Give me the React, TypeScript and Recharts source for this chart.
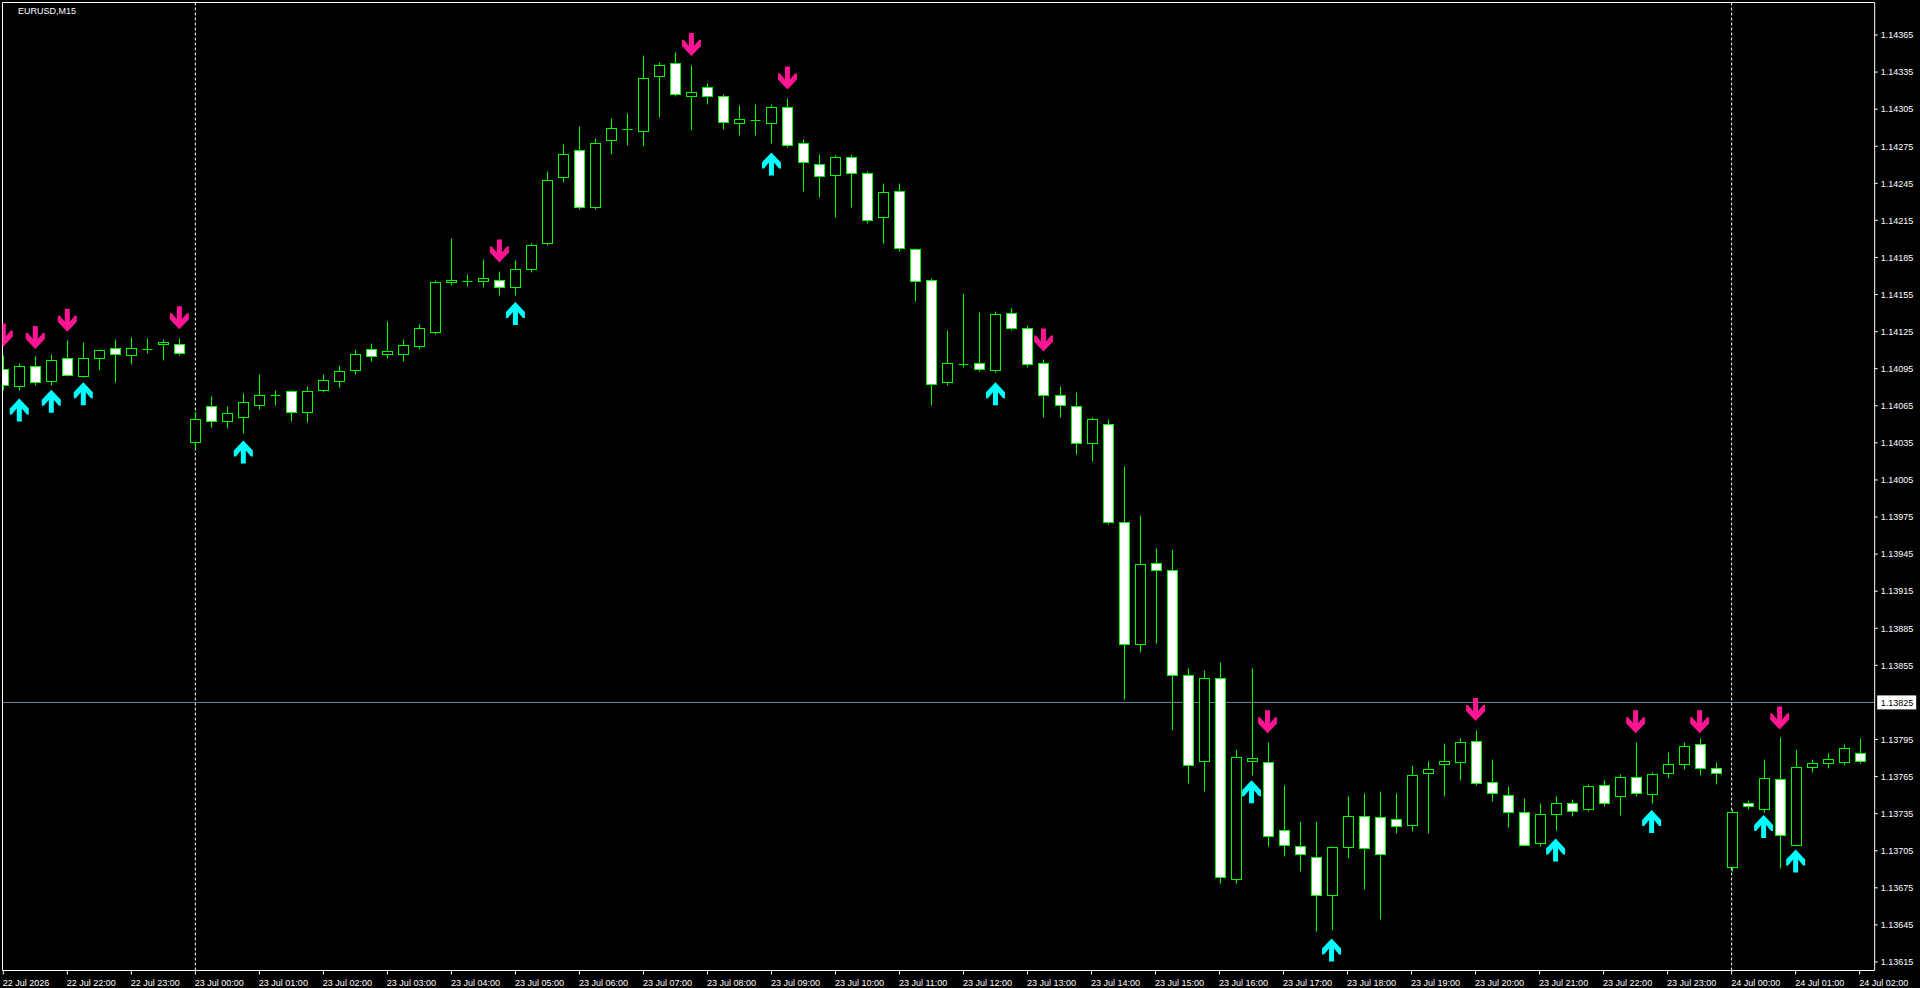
import React from 'react';
import { ComposedChart, XAxis, YAxis, Bar, Scatter, ReferenceLine } from 'recharts';

const TITLE = 'EURUSD,M15';

const OPEN = [
  1.14095, 1.14081, 1.14097, 1.14085, 1.14104, 1.14089, 1.14104, 1.14112, 1.14106, 1.14111, 1.14115, 1.14115,
  1.14036, 1.14065, 1.14053, 1.14056, 1.14066, 1.14074, 1.14077, 1.1406, 1.14078, 1.14085, 1.14094, 1.14111,
  1.14107, 1.14107, 1.14113, 1.14125, 1.14165, 1.14166, 1.14166, 1.14167, 1.14161, 1.14176, 1.14197, 1.1425,
  1.14272, 1.14226, 1.1428, 1.14289, 1.14287, 1.14332, 1.14342, 1.14316, 1.14323, 1.14316, 1.14294, 1.14296,
  1.14294, 1.14307, 1.14278, 1.14261, 1.14252, 1.14266, 1.14253, 1.14218, 1.14239, 1.14192, 1.14167, 1.14084,
  1.14099, 1.141, 1.14094, 1.1414, 1.14128, 1.141, 1.14074, 1.14065, 1.14035, 1.1405, 1.13971, 1.13872,
  1.13938, 1.13932, 1.13847, 1.13778, 1.13845, 1.13682, 1.13778, 1.13777, 1.13722, 1.13709, 1.137, 1.13669,
  1.13708, 1.13733, 1.13732, 1.13731, 1.13726, 1.13768, 1.13775, 1.13777, 1.13794, 1.13761, 1.1375, 1.13736,
  1.13711, 1.13735, 1.13744, 1.13739, 1.13758, 1.13749, 1.13765, 1.13751, 1.13768, 1.13775, 1.13791, 1.13772,
  1.13692, 1.13744, 1.13739, 1.13763, 1.1371, 1.13773, 1.13776, 1.13777, 1.13784,
];
const HIGH = [
  1.14106, 1.141, 1.14105, 1.14107, 1.14118, 1.14117, 1.14111, 1.14119, 1.14121, 1.1412, 1.14119, 1.1412,
  1.1406, 1.14073, 1.14065, 1.14075, 1.14091, 1.14078, 1.14078, 1.14081, 1.14091, 1.14098, 1.14111, 1.14116,
  1.14134, 1.14119, 1.14131, 1.14167, 1.14201, 1.14172, 1.14184, 1.14174, 1.14183, 1.14197, 1.14255, 1.14277,
  1.14291, 1.14282, 1.14298, 1.14302, 1.14349, 1.14343, 1.14351, 1.14341, 1.14326, 1.14317, 1.14308, 1.14309,
  1.14309, 1.14314, 1.14281, 1.14269, 1.14268, 1.14269, 1.14255, 1.14245, 1.14245, 1.14193, 1.14168, 1.14126,
  1.14156, 1.14141, 1.14142, 1.14144, 1.1413, 1.14103, 1.14081, 1.14076, 1.14056, 1.14054, 1.14016, 1.13977,
  1.1395, 1.13949, 1.13853, 1.13851, 1.13858, 1.13787, 1.13853, 1.13793, 1.13758, 1.13729, 1.13729, 1.13709,
  1.13749, 1.13752, 1.13753, 1.13752, 1.13774, 1.13778, 1.13792, 1.13796, 1.13803, 1.13779, 1.13757, 1.13748,
  1.13744, 1.13749, 1.13747, 1.13759, 1.13762, 1.13767, 1.13793, 1.13769, 1.13785, 1.13793, 1.13796, 1.13777,
  1.13739, 1.13746, 1.13779, 1.13797, 1.13787, 1.13779, 1.13784, 1.13791, 1.13796,
];
const LOW = [
  1.14078, 1.14078, 1.14082, 1.14082, 1.14089, 1.14088, 1.14094, 1.14084, 1.14099, 1.14108, 1.14102, 1.14106,
  1.1403, 1.14048, 1.14047, 1.14043, 1.14062, 1.14066, 1.14053, 1.14052, 1.14076, 1.1408, 1.14091, 1.14101,
  1.14104, 1.14101, 1.14111, 1.14123, 1.14163, 1.14162, 1.14161, 1.14155, 1.14155, 1.14173, 1.14195, 1.14246,
  1.14224, 1.14224, 1.14269, 1.14276, 1.14275, 1.14299, 1.14316, 1.14288, 1.14309, 1.14289, 1.14284, 1.14284,
  1.14278, 1.14274, 1.14239, 1.14234, 1.14218, 1.14226, 1.14213, 1.14197, 1.1419, 1.1415, 1.14066, 1.14082,
  1.14096, 1.14093, 1.14092, 1.14126, 1.14096, 1.14056, 1.14056, 1.14026, 1.1402, 1.13969, 1.13828, 1.13866,
  1.13873, 1.13803, 1.1376, 1.13753, 1.13679, 1.13679, 1.13766, 1.13709, 1.13701, 1.13689, 1.1364, 1.13641,
  1.13699, 1.13674, 1.1365, 1.13719, 1.13721, 1.13719, 1.13749, 1.13762, 1.13758, 1.13745, 1.13724, 1.13709,
  1.13709, 1.13722, 1.13733, 1.13737, 1.13741, 1.13734, 1.13749, 1.13744, 1.13764, 1.13771, 1.13766, 1.13759,
  1.13689, 1.13739, 1.13736, 1.13691, 1.13709, 1.13769, 1.13772, 1.13774, 1.13776,
];
const CLOSE = [
  1.14082, 1.14097, 1.14084, 1.14102, 1.1409, 1.14104, 1.1411, 1.14107, 1.14112, 1.14111, 1.14117, 1.14108,
  1.14054, 1.14053, 1.14059, 1.14068, 1.14074, 1.14074, 1.1406, 1.14077, 1.14086, 1.14093, 1.14107, 1.14105,
  1.14109, 1.14114, 1.14128, 1.14165, 1.14167, 1.14166, 1.14168, 1.14161, 1.14176, 1.14195, 1.14248, 1.14269,
  1.14226, 1.14278, 1.1429, 1.14289, 1.1433, 1.14341, 1.14317, 1.14319, 1.14316, 1.14295, 1.14297, 1.14296,
  1.14307, 1.14276, 1.14262, 1.14251, 1.14266, 1.14253, 1.14215, 1.14238, 1.14193, 1.14166, 1.14083, 1.141,
  1.14099, 1.14095, 1.14139, 1.14128, 1.14099, 1.14074, 1.14066, 1.14035, 1.14054, 1.13971, 1.13872, 1.13937,
  1.13932, 1.13847, 1.13774, 1.13845, 1.13684, 1.13781, 1.1378, 1.13717, 1.1371, 1.13702, 1.13669, 1.13708,
  1.13733, 1.13707, 1.13702, 1.13725, 1.13766, 1.13771, 1.13778, 1.13793, 1.1376, 1.13752, 1.13736, 1.1371,
  1.13735, 1.13744, 1.13737, 1.13757, 1.13744, 1.13765, 1.13752, 1.13767, 1.13775, 1.1379, 1.13772, 1.13768,
  1.13736, 1.13741, 1.13764, 1.13718, 1.13773, 1.13776, 1.13779, 1.13788, 1.13778,
];

const X_TICK_LABELS = [
  '22 Jul 2026', '22 Jul 22:00', '22 Jul 23:00', '23 Jul 00:00', '23 Jul 01:00', '23 Jul 02:00',
  '23 Jul 03:00', '23 Jul 04:00', '23 Jul 05:00', '23 Jul 06:00', '23 Jul 07:00', '23 Jul 08:00',
  '23 Jul 09:00', '23 Jul 10:00', '23 Jul 11:00', '23 Jul 12:00', '23 Jul 13:00', '23 Jul 14:00',
  '23 Jul 15:00', '23 Jul 16:00', '23 Jul 17:00', '23 Jul 18:00', '23 Jul 19:00', '23 Jul 20:00',
  '23 Jul 21:00', '23 Jul 22:00', '23 Jul 23:00', '24 Jul 00:00', '24 Jul 01:00', '24 Jul 02:00',
];
const BARS_PER_LABEL = 4;

const Y_TICKS = [
  1.14365, 1.14335, 1.14305, 1.14275, 1.14245, 1.14215, 1.14185, 1.14155, 1.14125, 1.14095, 1.14065, 1.14035,
  1.14005, 1.13975, 1.13945, 1.13915, 1.13885, 1.13855, 1.13825, 1.13795, 1.13765, 1.13735, 1.13705, 1.13675,
  1.13645, 1.13615,
];

const PRICE_LINE = 1.13825;
const DAY_SEPARATORS = [12, 108];

const DOWN_IDX = [0, 2, 4, 11, 31, 43, 49, 65, 79, 92, 102, 106, 111];
const DOWN_PRICE = [1.14113, 1.14111, 1.14125, 1.14127, 1.14181, 1.14348, 1.14321, 1.14109, 1.138, 1.1381, 1.138, 1.138, 1.13803];
const UP_IDX = [1, 3, 5, 15, 32, 48, 62, 78, 83, 97, 103, 110, 112];
const UP_PRICE = [1.14071, 1.14078, 1.14084, 1.14037, 1.14149, 1.1427, 1.14084, 1.13762, 1.13634, 1.13715, 1.13738, 1.13734, 1.13706];

const X_DOMAIN: [number, number] = [-0.05, 116.94];
const Y_DOMAIN: [number, number] = [1.136081, 1.143913];

const candles = OPEN.map((o, i) => ({ i, o, h: HIGH[i], l: LOW[i], c: CLOSE[i] }));
const xTicks = X_TICK_LABELS.map((_, k) => k * BARS_PER_LABEL);
const downData = DOWN_IDX.map((i, k) => ({ i, p: DOWN_PRICE[k] }));
const upData = UP_IDX.map((i, k) => ({ i, p: UP_PRICE[k] }));

const GREEN = '#00FF00';
const FONT = '"Liberation Sans", Arial, sans-serif';

function Candle(props: any) {
  const { x, y, width, height, payload } = props;
  if (x == null || y == null || payload == null) return null;
  const top = Math.min(y, y + height);
  const bot = Math.max(y, y + height);
  const { o, h, l, c } = payload;
  const span = h - l || 1e-9;
  const py = (p: number) => top + ((h - p) / span) * (bot - top);
  const cx = Math.round(x + width / 2) + 0.5;
  const yH = Math.round(py(h)) + 0.5;
  const yL = Math.round(py(l)) + 0.5;
  const yT = Math.round(py(Math.max(o, c))) + 0.5;
  const yB = Math.round(py(Math.min(o, c))) + 0.5;
  const bull = c >= o;
  return (
    <g>
      <line x1={cx} x2={cx} y1={yH} y2={yL} stroke={GREEN} strokeWidth={1} />
      {yB - yT < 1 ? (
        <line x1={cx - 5} x2={cx + 5} y1={yT} y2={yT} stroke={GREEN} strokeWidth={1} />
      ) : (
        <rect x={cx - 5} y={yT} width={10} height={yB - yT} fill={bull ? '#000000' : '#FFFFFF'} stroke={GREEN} strokeWidth={1} />
      )}
    </g>
  );
}

const ARROW_PTS: [number, number][] = [
  [-2.5, -23], [2.5, -23], [2.5, -10], [7.5, -16], [9.5, -16], [9.5, -10], [0, 0],
  [-9.5, -10], [-9.5, -16], [-7.5, -16], [-2.5, -10],
];

function makeArrow(dir: 1 | -1, color: string) {
  return (props: any) => {
    const { cx, cy } = props;
    if (cx == null || cy == null) return null;
    const pts = ARROW_PTS.map(([ax, ay]) => `${cx + ax},${cy + ay * dir}`).join(' ');
    return <polygon points={pts} fill={color} />;
  };
}
const DownArrow = makeArrow(1, '#FF1493');
const UpArrow = makeArrow(-1, '#00FFFF');

function XTick(props: any) {
  const { x, y, payload } = props;
  const label = X_TICK_LABELS[Math.round(payload.value / BARS_PER_LABEL)];
  return (
    <g>
      <line x1={x} x2={x} y1={y} y2={y + 4} stroke="#FFFFFF" strokeWidth={1} />
      <text x={x - 0.5} y={y + 15} fill="#FFFFFF" fontSize={9} fontFamily={FONT} textAnchor="start">
        {label}
      </text>
    </g>
  );
}

function YTick(props: any) {
  const { x, y, payload } = props;
  const v = payload.value as number;
  const label = v.toFixed(5);
  if (Math.abs(v - PRICE_LINE) < 1e-9) {
    return (
      <g>
        <rect x={x + 2.5} y={y - 7} width={39} height={14} fill="#FFFFFF" />
        <text x={x + 6} y={y + 3.3} fill="#000000" fontSize={9} fontFamily={FONT}>
          {label}
        </text>
      </g>
    );
  }
  return (
    <g>
      <line x1={x} x2={x + 3} y1={y} y2={y} stroke="#FFFFFF" strokeWidth={1} />
      <text x={x + 6} y={y + 3.3} fill="#FFFFFF" fontSize={9} fontFamily={FONT}>
        {label}
      </text>
    </g>
  );
}

export default function App() {
  return (
    <div style={{ position: 'absolute', left: 0, top: 0, width: 1920, height: 988, background: '#000000', overflow: 'hidden' }}>
      <ComposedChart
        width={1920}
        height={988}
        data={candles}
        margin={{ top: 2.5, right: 0, bottom: 0, left: 2.5 }}
      >
        <XAxis
          type="number"
          dataKey="i"
          domain={X_DOMAIN}
          allowDataOverflow
          ticks={xTicks}
          interval={0}
          height={17.5}
          axisLine={{ stroke: '#FFFFFF', strokeWidth: 1 }}
          tickLine={false}
          tickSize={0}
          tickMargin={0}
          tick={<XTick />}
        />
        <YAxis
          type="number"
          orientation="right"
          domain={Y_DOMAIN}
          allowDataOverflow
          ticks={Y_TICKS}
          interval={0}
          width={45.3}
          axisLine={{ stroke: '#FFFFFF', strokeWidth: 1 }}
          tickLine={false}
          tickSize={0}
          tickMargin={0}
          tick={<YTick />}
        />
        <ReferenceLine x={X_DOMAIN[0]} stroke="#FFFFFF" strokeWidth={1} ifOverflow="visible" />
        <ReferenceLine y={Y_DOMAIN[1]} stroke="#FFFFFF" strokeWidth={1} ifOverflow="visible" />
        {DAY_SEPARATORS.map((s) => (
          <ReferenceLine key={s} x={s} stroke="#FFFFFF" strokeWidth={1} strokeDasharray="3 2" {...({ zIndex: -100 } as any)} />
        ))}
        <ReferenceLine y={PRICE_LINE} stroke="#778899" strokeWidth={1} {...({ zIndex: -100 } as any)} />
        <Bar dataKey={(d: any) => [d.l, d.h]} barSize={10} shape={Candle} isAnimationActive={false} />
        <Scatter data={downData} dataKey="p" shape={DownArrow} isAnimationActive={false} />
        <Scatter data={upData} dataKey="p" shape={UpArrow} isAnimationActive={false} />
      </ComposedChart>
      <div
        style={{
          position: 'absolute',
          left: 18,
          top: 6.7,
          fontFamily: FONT,
          fontSize: 9,
          lineHeight: '9px',
          color: '#FFFFFF',
          whiteSpace: 'nowrap',
        }}
      >
        {TITLE}
      </div>
    </div>
  );
}
